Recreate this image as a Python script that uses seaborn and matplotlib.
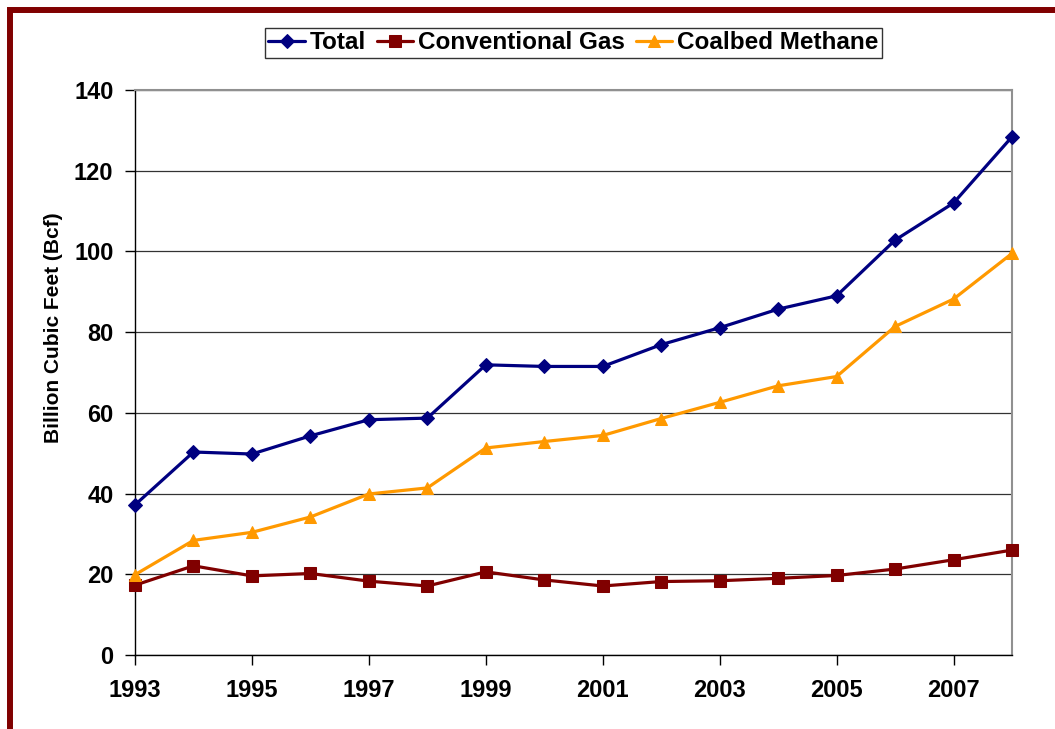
import matplotlib
matplotlib.use("Agg")
import matplotlib.pyplot as plt
from matplotlib.patches import Rectangle
import seaborn as sns
import pandas as pd

years = list(range(1993, 2009))
total = [37.2, 50.3, 49.8, 54.3, 58.3, 58.7, 71.9, 71.5, 71.5, 76.9, 81.1, 85.7, 89.0, 102.8, 112.0, 128.4]
conventional = [17.3, 22.1, 19.6, 20.2, 18.3, 17.1, 20.6, 18.6, 17.1, 18.2, 18.4, 19.0, 19.7, 21.3, 23.6, 26.0]
coalbed = [19.9, 28.4, 30.4, 34.2, 39.9, 41.4, 51.3, 52.9, 54.4, 58.6, 62.6, 66.7, 69.0, 81.4, 88.2, 99.5]

series_names = ["Total", "Conventional Gas", "Coalbed Methane"]
colors = {"Total": "#000080", "Conventional Gas": "#800000", "Coalbed Methane": "#FF9900"}
markers = {"Total": "D", "Conventional Gas": "s", "Coalbed Methane": "^"}
msizes = {"Total": 7, "Conventional Gas": 8, "Coalbed Methane": 8.5}
x_ticks = list(range(1993, 2009, 2))
y_ticks = list(range(0, 141, 20))

df = pd.DataFrame({
    "year": years * 3,
    "value": total + conventional + coalbed,
    "series": [s for s in series_names for _ in years],
})

sns.set_style("white")
plt.rcParams["font.family"] = ["Liberation Sans", "DejaVu Sans"]
plt.rcParams["font.weight"] = "bold"
plt.rcParams["text.color"] = "black"
plt.rcParams["axes.labelcolor"] = "black"
plt.rcParams["xtick.color"] = "black"
plt.rcParams["ytick.color"] = "black"

fig = plt.figure(figsize=(10.55, 7.29), dpi=100)
ax = fig.add_axes([135 / 1055, 74 / 729, 877 / 1055, 565 / 729])

for name in series_names:
    sub = df[df["series"] == name]
    sns.lineplot(data=sub, x="year", y="value", ax=ax, color=colors[name],
                 marker=markers[name], markersize=msizes[name], markeredgecolor=colors[name],
                 linewidth=2.3, label=name, clip_on=False, zorder=3)

ax.set_xlim(1993, 2008)
ax.set_ylim(0, 140)
ax.set_xticks(x_ticks)
ax.set_yticks(y_ticks)
ax.set_xticklabels([str(y) for y in x_ticks], fontsize=17, fontweight="bold", color="black")
ax.set_yticklabels([str(v) for v in y_ticks], fontsize=17, fontweight="bold", color="black")
ax.tick_params(axis="y", direction="out", length=7, width=1, color="black", pad=8.5, left=True)
ax.tick_params(axis="x", direction="out", length=7, width=1, color="black", pad=10, bottom=True)
ax.yaxis.grid(True, color="#333333", linewidth=0.9)
ax.set_axisbelow(True)

ax.set_xlabel("")
ax.set_ylabel("Billion Cubic Feet (Bcf)", fontsize=15, fontweight="bold", color="black")
ax.yaxis.set_label_coords(-0.082, 0.58)

for side in ["left", "bottom"]:
    ax.spines[side].set_color("black")
    ax.spines[side].set_linewidth(1.0)
for side in ["top", "right"]:
    ax.spines[side].set_color("#909090")
    ax.spines[side].set_linewidth(1.5)

leg = ax.legend(loc="upper center", bbox_to_anchor=(0.5, 1.11), ncol=3, frameon=True,
                fancybox=False, edgecolor="black", handlelength=1.5, borderaxespad=0,
                handletextpad=0.2, columnspacing=0.45, borderpad=0.15,
                prop={"weight": "bold", "size": 17.5})
leg.get_frame().set_linewidth(1.0)
for t in leg.get_texts():
    t.set_color("black")

fig.patches.append(Rectangle((9.5 / 1055, -0.2), 1.5, 1.2 - 9.5 / 729, transform=fig.transFigure,
                             fill=False, edgecolor="#800000", linewidth=4.3, zorder=10))

fig.savefig("out.png", dpi=100)
